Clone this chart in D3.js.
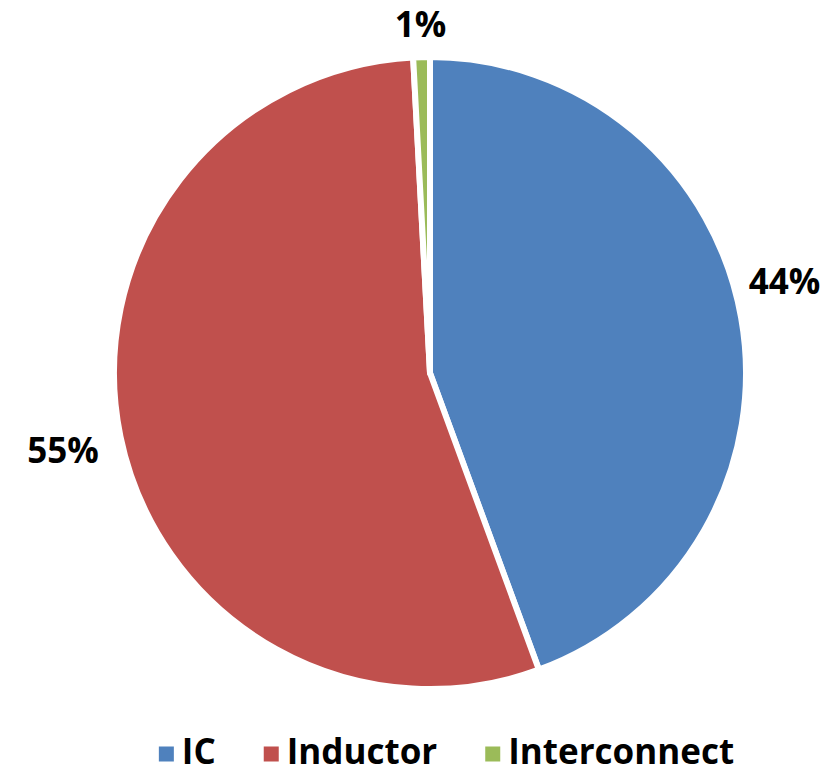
<!DOCTYPE html>
<html>
<head>
<meta charset="utf-8">
<script src="https://cdn.jsdelivr.net/npm/d3@7"></script>
<style>
  html, body { margin: 0; padding: 0; background: #ffffff; }
  svg { display: block; }
  text { font-family: "Open Sans", "Noto Sans", sans-serif; font-weight: 700; fill: #000; }
</style>
</head>
<body>
<svg id="chart" width="839" height="773"></svg>
<script>
// ---- data ----
const categories = ["IC", "Inductor", "Interconnect"];
const values = [44.4, 54.75, 0.85];
const labels = ["44%", "55%", "1%"];
const colors = ["#4F81BD", "#C0504D", "#9BBB59"];

// ---- layout ----
const W = 839, H = 773;
const cx = 430, cy = 373, R = 316;
const svg = d3.select("#chart");

const pie = d3.pie().sort(null).value(d => d.value);
const arcs = pie(categories.map((c, i) => ({ name: c, value: values[i], color: colors[i], label: labels[i] })));
const arc = d3.arc().innerRadius(0).outerRadius(R);

const g = svg.append("g").attr("transform", `translate(${cx},${cy})`);
g.selectAll("path.slice")
  .data(arcs)
  .join("path")
  .attr("class", "slice")
  .attr("d", arc)
  .attr("fill", d => d.data.color)
  .attr("stroke", "#ffffff")
  .attr("stroke-width", 6)
  .attr("stroke-linejoin", "round");

// data labels, placed outside the slice along its mid angle
const labelFont = 35;
const digitH = 25;
const labelGap = 22;
const nudge = [[-15, -26], [1, 2], [0, 3]]; // best-fit adjustments
const lbl = g.selectAll("text.lbl")
  .data(arcs)
  .join("text")
  .attr("class", "lbl")
  .attr("font-size", labelFont)
  .attr("text-anchor", "middle")
  .text(d => d.data.label);
lbl.each(function(d, i) {
  const w = this.getComputedTextLength();
  const a = (d.startAngle + d.endAngle) / 2;
  const s = Math.sin(a), c = -Math.cos(a);
  const ext = (w / 2) * Math.abs(s) + (digitH / 2) * Math.abs(c);
  const r = R + labelGap + ext;
  const x = r * s + nudge[i][0];
  const y = r * c + nudge[i][1];
  d3.select(this).attr("x", x).attr("y", y + digitH / 2);
});

// legend
const legendFont = 35;
const sq = 15, sqGap = 8, itemGap = 48;
const legendY = 754;
const leg = svg.append("g");
const items = leg.selectAll("g.item").data(arcs).join("g").attr("class", "item");
items.append("rect")
  .attr("width", sq).attr("height", sq)
  .attr("y", legendY - sq / 2)
  .attr("fill", d => d.data.color);
items.append("text")
  .attr("font-size", legendFont)
  .attr("x", sq + sqGap)
  .attr("y", legendY + 10)
  .text(d => d.data.name);
let xpos = 0;
const widths = [];
items.each(function() {
  const tw = d3.select(this).select("text").node().getComputedTextLength();
  widths.push(sq + sqGap + tw);
});
const total = d3.sum(widths) + itemGap * (widths.length - 1);
xpos = 446.5 - total / 2;
items.each(function(d, i) {
  d3.select(this).attr("transform", `translate(${xpos},0)`);
  xpos += widths[i] + itemGap;
});
</script>
</body>
</html>
